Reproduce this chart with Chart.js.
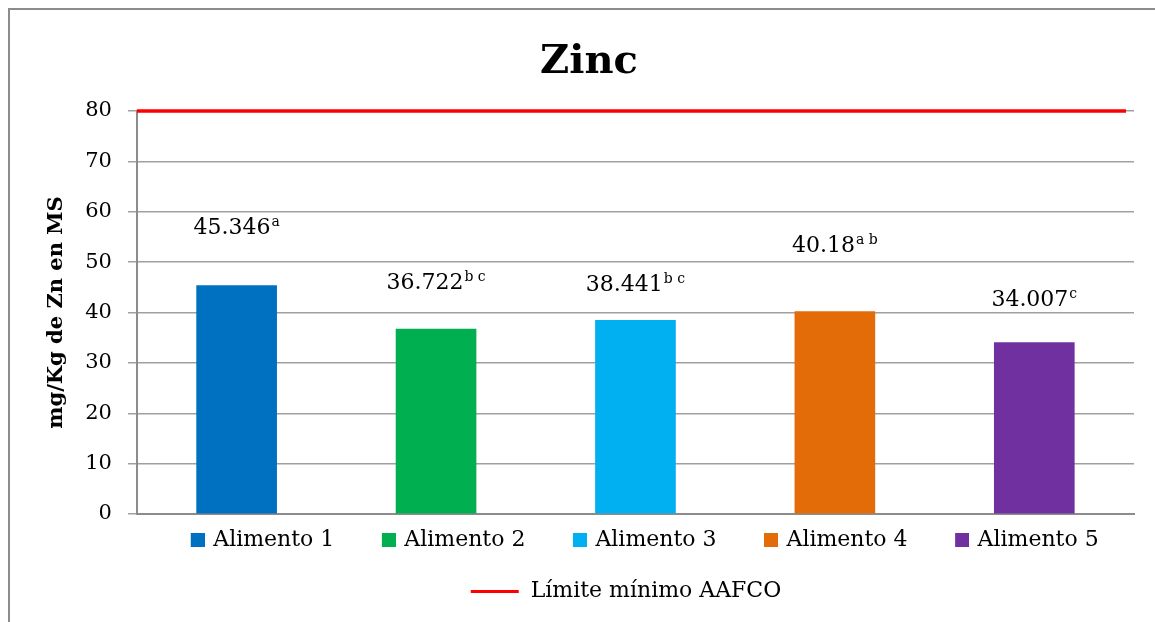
<!DOCTYPE html>
<html>
<head>
<meta charset="utf-8">
<script src="https://cdn.jsdelivr.net/npm/chart.js@4/dist/chart.umd.min.js"></script>
<style>
  html, body { margin: 0; padding: 0; overflow: hidden; background: #fff; }
  #frame { position: absolute; left: 8px; top: 8px; width: 1200px; height: 700px;
           border-left: 2px solid #8c8c8c; border-top: 2px solid #8c8c8c; }
  #zinc-chart { position: absolute; left: 0; top: 0; }
</style>
</head>
<body>
<div id="frame"><canvas id="zinc-chart" width="1155" height="616"></canvas></div>
<script>
const alimentos = ["Alimento 1", "Alimento 2", "Alimento 3", "Alimento 4", "Alimento 5"];
const zinc = [45.346, 36.722, 38.441, 40.18, 34.007];
const letras = ["a", "b c", "b c", "a b", "c"]; // superscript groups
const colores = ["#0070C0", "#00B050", "#00B0F0", "#E36C09", "#7030A0"];
const limiteNombre = "Límite mínimo AAFCO";
const limiteAAFCO = [80, 80];
const yTicks = [0, 10, 20, 30, 40, 50, 60, 70, 80];

const FONT = '"DejaVu Serif", serif';
const LEG_SIZE = 22;
const LEG_PAD = 29;

// legend swatches (square pushed to the right of the box, line for the limit)
function swatch(color) {
  const c = document.createElement("canvas");
  c.width = 35; c.height = 14;
  const g = c.getContext("2d");
  g.fillStyle = color;
  g.fillRect(21, 0, 14, 14);
  return c;
}
function lineSwatch(color) {
  const c = document.createElement("canvas");
  c.width = 96; c.height = 3;
  const g = c.getContext("2d");
  g.fillStyle = color;
  g.fillRect(14, 0, 48, 3);
  return c;
}

// one bar per food, each sitting at its own slot on a linear x scale (1..5)
const datasets = alimentos.map((name, i) => ({
  type: "bar",
  label: name,
  data: [{ x: i + 1, y: zinc[i] }],
  backgroundColor: colores[i],
  grouped: false,
  barThickness: 80,
  order: 2,
}));
// the limit line runs across the whole plot width
datasets.push({
  type: "line",
  label: limiteNombre,
  data: limiteAAFCO.map((v, i) => ({ x: i === 0 ? 0.5 : alimentos.length + 0.46, y: v })),
  borderColor: "#FF0000",
  backgroundColor: "#FF0000",
  borderWidth: 3.5,
  pointRadius: 0,
  clip: false,
  order: 1,
});

// value labels with superscript letters, placed by hand above the bars like the original
const etiquetas = {
  id: "etiquetas",
  afterDatasetsDraw(chart) {
    const ctx = chart.ctx;
    const alturas = [60, 48, 37, 68, 45];
    ctx.save();
    ctx.fillStyle = "#000";
    ctx.textAlign = "left";
    ctx.textBaseline = "alphabetic";
    zinc.forEach((v, i) => {
      const bar = chart.getDatasetMeta(i).data[0];
      const main = String(v);
      ctx.font = "22px " + FONT;
      const w1 = ctx.measureText(main).width;
      ctx.font = "14px " + FONT;
      const w2 = ctx.measureText(letras[i]).width + 1;
      const x0 = bar.x - (w1 + w2) / 2;
      const base = bar.y - alturas[i] + 8;
      ctx.font = "22px " + FONT;
      ctx.fillText(main, x0, base);
      ctx.font = "14px " + FONT;
      ctx.fillText(letras[i], x0 + w1 + 1, base - 8);
    });
    ctx.restore();
  },
};

// centre the legend on the plot area and pull it up under the axis
const legendaPos = {
  id: "legendaPos",
  afterLayout(chart) {
    const lg = chart.legend, a = chart.chartArea;
    const w = lg.right - lg.left;
    const cx = (a.left + a.right) / 2;
    lg.left = cx - w / 2;
    lg.right = cx + w / 2;
    const h = lg.bottom - lg.top;
    lg.top = a.bottom + 26 - LEG_PAD - LEG_SIZE / 2;
    lg.bottom = lg.top + h;
  },
};

new Chart(document.getElementById("zinc-chart"), {
  data: { datasets: datasets },
  plugins: [etiquetas, legendaPos],
  options: {
    responsive: false,
    animation: false,
    layout: { padding: { left: 34, right: 31, top: 0, bottom: 0 } },
    plugins: {
      tooltip: { enabled: false },
      title: {
        display: true,
        text: "Zinc",
        color: "#000",
        font: { family: FONT, size: 40, weight: "bold" },
        padding: { top: 29, bottom: 24 },
      },
      legend: {
        position: "bottom",
        labels: {
          color: "#000",
          font: { family: FONT, size: LEG_SIZE },
          usePointStyle: true,
          pointStyleWidth: 30,
          boxHeight: 14,
          padding: LEG_PAD,
          generateLabels(chart) {
            return chart.data.datasets.map((ds, i) => ({
              text: ds.label,
              fillStyle: ds.backgroundColor,
              strokeStyle: ds.backgroundColor,
              lineWidth: 0,
              pointStyle: ds.type === "line" ? lineSwatch(ds.borderColor) : swatch(ds.backgroundColor),
              datasetIndex: i,
              hidden: false,
              fontColor: "#000",
            }));
          },
        },
      },
    },
    scales: {
      x: {
        type: "linear",
        offset: false,
        min: 0.5,
        max: alimentos.length + 0.5,
        ticks: { display: false },
        grid: { display: false, drawTicks: false, tickLength: 0 },
        border: { display: true, color: "#8c8c8c", width: 2 },
      },
      y: {
        min: 0,
        max: 80,
        afterBuildTicks(scale) { scale.ticks = yTicks.map(v => ({ value: v })); },
        ticks: { color: "#000", padding: 16, font: { family: FONT, size: 21 } },
        grid: { color: "#a0a0a0", lineWidth: 1.5, tickLength: 9 },
        border: { color: "#8c8c8c", width: 2 },
        title: {
          display: true,
          text: "mg/Kg de Zn en MS",
          color: "#000",
          font: { family: FONT, size: 21, weight: "bold" },
          padding: { top: 0, bottom: 0 },
        },
      },
    },
  },
});
</script>
</body>
</html>
